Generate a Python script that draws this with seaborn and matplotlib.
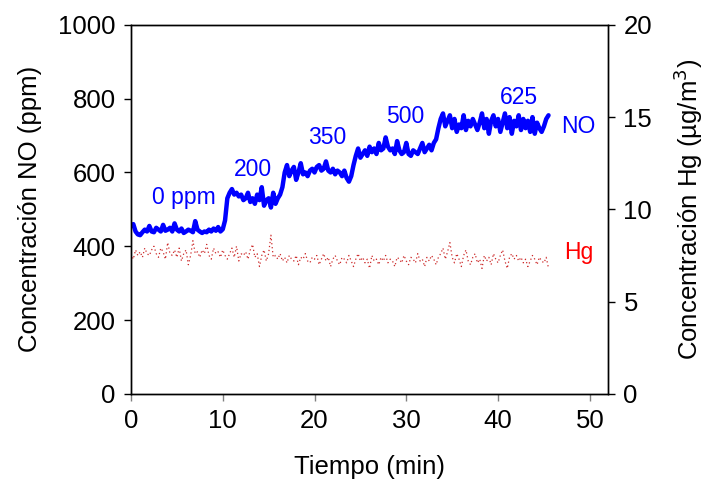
import numpy as np
import pandas as pd
import matplotlib
matplotlib.use('Agg')
import matplotlib.pyplot as plt
import seaborn as sns

# NO concentration (ppm), one reading every 0.25 min
step_min = 0.25
no_ppm = [
    455, 460, 440, 432, 430, 438, 445, 440, 455, 440,
    438, 450, 445, 440, 458, 442, 445, 450, 440, 462,
    445, 440, 448, 436, 440, 445, 442, 438, 468, 445,
    440, 436, 440, 438, 445, 440, 448, 442, 452, 440,
    446, 470,
    530, 545, 555, 540, 545, 535, 540, 525, 530, 545,
    520, 530, 515, 540, 525, 560, 510, 525, 530, 505,
    545, 515, 530, 540,
    560, 600, 620, 590, 605, 615, 580, 600, 625, 595,
    600, 590, 605, 610, 600, 615, 620, 605, 610, 630,
    605, 600, 610, 595, 605, 600, 590, 605, 585, 575,
    590,
    620, 645, 665, 640, 650, 660, 645, 670, 655, 665,
    650, 680, 660, 665, 695, 670, 660, 665, 650, 685,
    660, 650, 655, 680, 650, 645, 660, 655, 650, 665,
    680, 655, 665, 675, 660, 680, 690,
    720, 745, 760, 725, 740, 755, 720, 745, 710, 730,
    720, 755, 715, 740, 725, 745, 730, 715, 735, 760,
    720, 745, 705, 740, 755, 725, 745, 710, 735, 760,
    720, 750, 705, 740, 725, 755, 715, 745, 720, 740,
    710, 750, 705, 735, 720, 710, 725, 745, 755,
]

# Hg concentration (ug/m3), same sampling
hg_ugm3 = [
    7.6, 7.3, 7.8, 7.5, 7.7, 7.4, 7.9, 7.6, 7.5, 7.8,
    8.0, 7.6, 7.4, 7.9, 7.7, 7.3, 8.2, 7.6, 7.5, 7.8,
    7.4, 7.9, 7.2, 7.6, 7.8, 7.0, 7.5, 8.3, 7.6, 7.7,
    7.4, 7.8, 7.6, 8.1, 7.5, 7.3, 7.9, 7.6, 7.7, 7.4,
    7.8, 7.5, 7.3, 7.6, 7.9, 7.4, 8.0, 7.2, 7.6, 7.5,
    7.7, 7.3, 7.8, 8.1, 7.4, 7.6, 6.9, 7.5, 7.8, 7.2,
    7.6, 8.6, 7.4, 7.5, 7.3, 7.6, 7.2, 7.4, 7.1, 7.5,
    7.3, 7.2, 7.5, 7.0, 7.4, 7.3, 7.6, 7.2, 7.1, 7.4,
    7.3, 7.5, 7.0, 7.3, 7.6, 7.2, 7.4, 6.9, 7.3, 7.5,
    7.2, 7.0, 7.4, 7.3, 7.1, 7.5, 7.2, 6.9, 7.3, 7.6,
    7.2, 7.4, 7.1, 7.3, 6.8, 7.5, 7.2, 7.3, 7.0, 7.4,
    7.2, 7.5, 7.1, 7.3, 7.2, 6.9, 7.4, 7.3, 7.1, 7.5,
    7.2, 7.0, 7.4, 7.3, 7.1, 7.6, 7.2, 7.3, 6.9, 7.4,
    7.2, 7.5, 7.3, 7.0, 7.4, 7.6, 7.9, 7.3, 7.7, 8.2,
    7.4, 7.1, 7.6, 7.3, 6.9, 7.5, 7.8, 7.2, 7.0, 7.4,
    7.6, 7.1, 7.3, 6.8, 7.5, 7.2, 7.4, 7.0, 7.6, 7.3,
    7.1, 7.5, 7.8, 7.2, 6.8, 7.4, 7.6, 7.3, 7.5, 7.2,
    7.4, 7.1, 7.3, 6.9, 7.2, 7.5, 7.3, 7.0, 7.4, 7.2,
    7.1, 7.4, 6.8,
]

# step labels (NO injected) and where they sit
step_labels = ['0 ppm', '200', '350', '500', '625']
label_t = [5.8, 13.3, 21.4, 29.9, 42.3]
label_ppm = [531, 607, 694, 751, 802]

df = pd.DataFrame({
    'tiempo': np.arange(len(no_ppm)) * step_min,
    'NO': no_ppm,
    'Hg': hg_ugm3,
})

sns.set_style('ticks')
plt.rcParams['font.family'] = ['Liberation Sans', 'DejaVu Sans']
plt.rcParams['text.color'] = 'black'
plt.rcParams['axes.labelcolor'] = 'black'
plt.rcParams['xtick.color'] = 'black'
plt.rcParams['ytick.color'] = 'black'
fs = 18.5
fs_note = 16.5

fig = plt.figure(figsize=(7.08, 4.88), dpi=100)
ax = fig.add_axes([0.185, 0.193, 0.674, 0.756])
ax2 = ax.twinx()

sns.lineplot(data=df, x='tiempo', y='NO', ax=ax, color='#0000ff', linewidth=3.2)
sns.lineplot(data=df, x='tiempo', y='Hg', ax=ax2, color='#cc2a2a',
             linewidth=0.9, linestyle=(0, (1, 2.2)))

ax.set_xlim(0, 52)
ax.set_ylim(0, 1000)
ax2.set_ylim(0, 20)
ax.set_xticks([0, 10, 20, 30, 40, 50])
ax.set_yticks([0, 200, 400, 600, 800, 1000])
ax2.set_yticks([0, 5, 10, 15, 20])

ax.set_xlabel('Tiempo (min)', fontsize=fs, labelpad=16)
ax.set_ylabel('Concentración NO (ppm)', fontsize=fs, labelpad=12)
ax2.set_ylabel('Concentración Hg (µg/m$^3$)', fontsize=fs, labelpad=14)

for a in (ax, ax2):
    a.tick_params(labelsize=fs, length=5, width=1, pad=6)
    for sp in a.spines.values():
        sp.set_color('black')
        sp.set_linewidth(1)
        sp.set_visible(True)
ax.tick_params(axis='x', color='grey')

for txt, t, v in zip(step_labels, label_t, label_ppm):
    ax.text(t, v, txt, color='#0000ff', fontsize=fs_note, ha='center', va='center')
ax.text(48.7, 724, 'NO', color='#0000ff', fontsize=fs_note, ha='center', va='center')
ax.text(48.8, 382, 'Hg', color='#ff0000', fontsize=fs_note, ha='center', va='center')

fig.savefig('out.png', dpi=100)
